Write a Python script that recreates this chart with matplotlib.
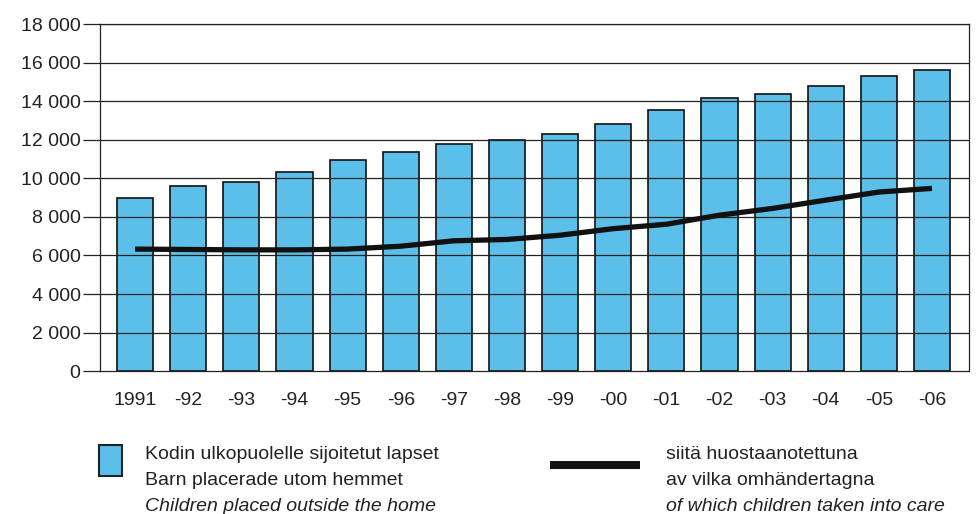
import matplotlib.pyplot as plt
import matplotlib.patches as mpatches
from matplotlib.lines import Line2D
import numpy as np

plt.rcParams['font.family'] = ['Liberation Sans', 'DejaVu Sans']

years = ['1991', '-92', '-93', '-94', '-95', '-96', '-97', '-98',
         '-99', '-00', '-01', '-02', '-03', '-04', '-05', '-06']
placed = [8960, 9600, 9800, 10320, 10950, 11360, 11780, 11980,
          12300, 12810, 13540, 14160, 14370, 14780, 15300, 15610]
in_care = [6330, 6310, 6290, 6290, 6330, 6480, 6760, 6830,
           7050, 7390, 7620, 8090, 8440, 8870, 9290, 9480]
yticks = np.arange(0, 18001, 2000)

blue = '#5bbfea'

fig = plt.figure(figsize=(9.76, 5.14), dpi=100)
ax = fig.add_axes([0.1025, 0.278, 0.8905, 0.675])

x = np.arange(len(years))
ax.bar(x, placed, width=0.68, color=blue, edgecolor='#111111', linewidth=1.2, zorder=1)
for v in yticks[1:]:
    ax.axhline(v, color='#222222', lw=0.9, zorder=2)
ax.plot(x, in_care, color='#111111', lw=3.8, solid_capstyle='butt', zorder=3)

ax.set_xlim(-0.66, 15.7)
ax.set_ylim(0, 18000)
ax.set_yticks(yticks)
ax.set_yticklabels([f'{v:,}'.replace(',', ' ') for v in yticks], fontsize=14, color='#222222')
ax.set_xticks(x)
ax.set_xticklabels(years, fontsize=14, color='#222222')
ax.tick_params(axis='y', length=12, width=0.9, pad=2, color='#222222')
ax.tick_params(axis='x', length=0, pad=15)
for s in ax.spines.values():
    s.set_color('#222222')
    s.set_linewidth(0.9)

# legend drawn by hand below the plot
fig.patches.append(mpatches.Rectangle((99 / 976, 1 - 476 / 514), 23 / 976, 31 / 514,
                                      transform=fig.transFigure, facecolor=blue,
                                      edgecolor='#222222', lw=1.5))
fig.lines.append(Line2D([550 / 976, 640 / 976], [1 - 465 / 514, 1 - 465 / 514],
                        transform=fig.transFigure, color='#111111', lw=5.8,
                        solid_capstyle='butt'))
left_txt = ['Kodin ulkopuolelle sijoitetut lapset', 'Barn placerade utom hemmet',
            'Children placed outside the home']
right_txt = ['siitä huostaanotettuna', 'av vilka omhändertagna',
             'of which children taken into care']
for i in range(3):
    st = 'italic' if i == 2 else 'normal'
    yy = 1 - (459 + 26 * i) / 514
    fig.text(145 / 976, yy, left_txt[i], fontsize=14, style=st, va='baseline', color='#222222')
    fig.text(666 / 976, yy, right_txt[i], fontsize=14, style=st, va='baseline', color='#222222')

fig.savefig('out.png', dpi=100)
